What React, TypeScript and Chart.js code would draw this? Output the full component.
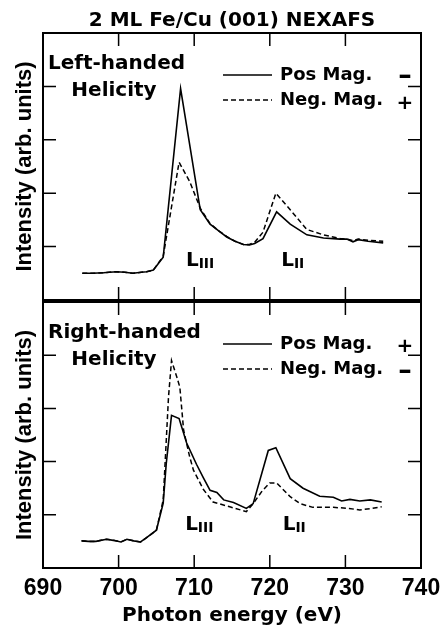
import { useEffect, useRef } from "react";
import { Chart, registerables } from "chart.js";

Chart.register(...registerables);

// ---------- data ----------
const titleText = "2 ML Fe/Cu (001) NEXAFS";
const yTitleText = "Intensity (arb. units)";
const xTitleText = "Photon energy (eV)";

const xMin = 690;
const xMax = 740;
const xTickStep = 10;
const innerXTicks = [700, 710, 720, 730];
const yMin = 0;
const yMax = 5;
const innerYTicks = [1, 2, 3, 4];

// Top panel: left-handed helicity
const leftPosE = [695.2, 696.5, 698.0, 699.7, 700.8, 701.9, 703.0, 703.7, 704.6, 705.9, 708.2, 710.8, 712.1, 713.2, 714.3, 715.4, 716.5, 717.3, 718.0, 719.1, 720.9, 722.7, 724.9, 727.1, 729.3, 730.2, 731.0, 731.7, 733.0, 735.0];
const leftPosI = [0.50, 0.50, 0.51, 0.53, 0.52, 0.50, 0.52, 0.53, 0.56, 0.80, 3.96, 1.69, 1.42, 1.30, 1.18, 1.10, 1.04, 1.03, 1.06, 1.15, 1.65, 1.42, 1.22, 1.16, 1.14, 1.14, 1.09, 1.13, 1.10, 1.07];
const leftNegE = [695.2, 696.5, 698.0, 699.7, 700.8, 701.9, 703.0, 703.7, 704.6, 705.9, 708.0, 709.4, 710.8, 712.1, 713.2, 714.3, 715.4, 716.5, 717.3, 718.0, 719.1, 720.8, 722.7, 724.9, 727.1, 729.3, 730.2, 731.0, 731.7, 733.0, 735.0];
const leftNegI = [0.50, 0.50, 0.51, 0.53, 0.52, 0.50, 0.52, 0.53, 0.56, 0.82, 2.58, 2.22, 1.72, 1.43, 1.30, 1.19, 1.10, 1.04, 1.04, 1.08, 1.27, 2.00, 1.69, 1.32, 1.22, 1.15, 1.14, 1.11, 1.14, 1.12, 1.10];

// Bottom panel: right-handed helicity
const rightPosE = [695.1, 696.0, 697.0, 698.4, 699.3, 700.3, 701.1, 702.0, 702.9, 703.7, 705.0, 705.9, 706.3, 707.0, 708.0, 709.0, 710.3, 711.2, 712.1, 713.0, 713.9, 715.2, 716.9, 717.8, 719.8, 720.8, 722.7, 724.4, 726.6, 728.4, 729.5, 730.6, 731.9, 733.3, 734.8];
const rightPosI = [0.51, 0.50, 0.50, 0.54, 0.52, 0.49, 0.54, 0.51, 0.49, 0.57, 0.71, 1.22, 1.96, 2.87, 2.81, 2.35, 1.95, 1.70, 1.46, 1.42, 1.28, 1.23, 1.12, 1.21, 2.21, 2.26, 1.68, 1.50, 1.35, 1.33, 1.26, 1.29, 1.26, 1.28, 1.24];
const rightNegE = [695.1, 696.0, 697.0, 698.4, 699.3, 700.3, 701.1, 702.0, 702.9, 703.7, 705.0, 705.9, 706.6, 707.0, 707.7, 708.1, 708.6, 709.4, 709.9, 711.2, 712.5, 714.7, 716.9, 717.8, 719.0, 720.0, 720.9, 722.7, 724.0, 725.7, 728.4, 730.5, 731.9, 733.5, 734.8];
const rightNegI = [0.51, 0.50, 0.50, 0.54, 0.52, 0.49, 0.54, 0.51, 0.49, 0.57, 0.71, 1.28, 3.21, 3.90, 3.59, 3.40, 2.59, 2.09, 1.84, 1.48, 1.24, 1.15, 1.06, 1.21, 1.45, 1.60, 1.60, 1.34, 1.21, 1.14, 1.14, 1.12, 1.09, 1.12, 1.15];

// labels
const topHand = ["Left-handed", "Helicity"];
const bottomHand = ["Right-handed", "Helicity"];
const posLabel = "Pos Mag.";
const negLabel = "Neg. Mag.";
const topSigns = ["–", "+"];
const bottomSigns = ["+", "–"];
// edge labels anchored in data coordinates [energy, intensity]
const topLIII = [708.9, 0.64];
const topLII = [721.5, 0.64];
const bottomLIII = [708.8, 0.71];
const bottomLII = [721.7, 0.71];

// ---------- styles ----------
const BIG = 'bold 20px "DejaVu Sans"';
const LEG = 'bold 18px "DejaVu Sans"';
const SUB = 'bold 14px "DejaVu Sans"';
const DASH_FONT = 'bold 27px "DejaVu Sans"';
const PLUS_FONT = 'bold 20px "DejaVu Sans"';
const DASH = [5, 3];

type PanelCfg = {
  hand: string[];
  signs: string[];
  lIII: number[];
  lII: number[];
  drawTitle: boolean;
};

function makeDecor(cfg: PanelCfg) {
  return {
    id: "decor",
    afterDatasetsDraw(chart: any) {
      const { ctx, chartArea: a, scales } = chart;
      const xs = scales.x;
      const ys = scales.y;
      ctx.save();
      ctx.strokeStyle = "#000";
      ctx.fillStyle = "#000";
      // frame
      ctx.lineWidth = 2;
      ctx.setLineDash([]);
      ctx.strokeRect(a.left, a.top, a.right - a.left, a.bottom - a.top);
      // inward ticks
      const TL = 13;
      ctx.lineWidth = 1.5;
      ctx.beginPath();
      innerXTicks.forEach((v) => {
        const px = xs.getPixelForValue(v);
        ctx.moveTo(px, a.top);
        ctx.lineTo(px, a.top + TL);
        ctx.moveTo(px, a.bottom);
        ctx.lineTo(px, a.bottom - TL);
      });
      innerYTicks.forEach((v) => {
        const py = ys.getPixelForValue(v);
        ctx.moveTo(a.left, py);
        ctx.lineTo(a.left + TL, py);
        ctx.moveTo(a.right, py);
        ctx.lineTo(a.right - TL, py);
      });
      ctx.stroke();

      ctx.textBaseline = "alphabetic";
      // title
      if (cfg.drawTitle) {
        ctx.font = BIG;
        ctx.textAlign = "center";
        ctx.fillText(titleText, (a.left + a.right) / 2, 26);
      }
      // helicity
      ctx.font = BIG;
      ctx.textAlign = "left";
      ctx.fillText(cfg.hand[0], a.left + 5, a.top + 36);
      ctx.textAlign = "center";
      ctx.fillText(cfg.hand[1], a.left + 71, a.top + 63);

      // legend
      const lx0 = a.left + 180;
      const lx1 = a.left + 229;
      ctx.lineWidth = 1.5;
      ctx.beginPath();
      ctx.moveTo(lx0, a.top + 42);
      ctx.lineTo(lx1, a.top + 42);
      ctx.stroke();
      ctx.setLineDash(DASH);
      ctx.beginPath();
      ctx.moveTo(lx0, a.top + 67);
      ctx.lineTo(lx1, a.top + 67);
      ctx.stroke();
      ctx.setLineDash([]);
      ctx.font = LEG;
      ctx.textAlign = "left";
      ctx.fillText(posLabel, a.left + 237, a.top + 47);
      ctx.fillText(negLabel, a.left + 237, a.top + 72);
      // signs, centred on their rows
      ctx.textAlign = "center";
      ctx.textBaseline = "middle";
      const rows = [a.top + 43.5, a.top + 69.5];
      cfg.signs.forEach((s, i) => {
        ctx.font = s === "+" ? PLUS_FONT : DASH_FONT;
        ctx.fillText(s, a.right - 16, rows[i] + (s === "+" ? 1 : 0));
      });
      ctx.textBaseline = "alphabetic";

      // edge labels
      const drawEdge = (pos: number[], sub: string) => {
        const px = xs.getPixelForValue(pos[0]);
        const py = ys.getPixelForValue(pos[1]);
        ctx.textAlign = "left";
        ctx.font = BIG;
        ctx.fillText("L", px, py);
        const w = ctx.measureText("L").width;
        ctx.font = SUB;
        ctx.fillText(sub, px + w, py + 2);
      };
      drawEdge(cfg.lIII, "III");
      drawEdge(cfg.lII, "II");
      ctx.restore();
    },
  };
}

function toPts(e: number[], v: number[]) {
  return e.map((x, i) => ({ x, y: v[i] }));
}

function makeConfig(
  pos: { x: number; y: number }[],
  neg: { x: number; y: number }[],
  cfg: PanelCfg,
  bottom: boolean
): any {
  const xScale: any = {
    type: "linear",
    min: xMin,
    max: xMax,
    display: bottom,
    grid: { display: false, drawTicks: false },
    border: { display: false },
    ticks: {
      stepSize: xTickStep,
      color: "#000",
      padding: 7,
      maxRotation: 0,
      font: { family: '"Liberation Sans"', size: 23, weight: "bold" },
    },
    title: {
      display: true,
      text: xTitleText,
      color: "#000",
      padding: { top: 0, bottom: 0 },
      font: { family: '"DejaVu Sans"', size: 20, weight: "bold" },
    },
  };
  if (bottom) {
    xScale.afterFit = (s: any) => {
      s.height = 60;
      s.paddingLeft = 0;
      s.paddingRight = 0;
    };
  }
  return {
    type: "line",
    data: {
      datasets: [
        {
          label: posLabel,
          data: pos,
          borderColor: "#000",
          borderWidth: 1.6,
          pointRadius: 0,
          tension: 0,
          fill: false,
        },
        {
          label: negLabel,
          data: neg,
          borderColor: "#000",
          borderWidth: 1.5,
          borderDash: DASH,
          pointRadius: 0,
          tension: 0,
          fill: false,
        },
      ],
    },
    options: {
      responsive: false,
      animation: false,
      events: [],
      layout: {
        padding: bottom
          ? { top: 2, right: 19, bottom: 0, left: 0 }
          : { top: 33, right: 19, bottom: 2, left: 0 },
      },
      plugins: {
        legend: { display: false },
        tooltip: { enabled: false },
        title: { display: false },
      },
      scales: {
        x: xScale,
        y: {
          type: "linear",
          min: yMin,
          max: yMax,
          grid: { display: false, drawTicks: false },
          border: { display: false },
          ticks: { display: false },
          title: {
            display: true,
            text: yTitleText,
            color: "#000",
            padding: { top: 12, bottom: 0 },
            font: { family: '"Liberation Sans"', size: 22, weight: "bold" },
          },
          afterFit: (s: any) => {
            s.width = 43;
          },
        },
      },
    },
    plugins: [makeDecor(cfg)],
  };
}

export default function App() {
  const topRef = useRef<HTMLCanvasElement>(null);
  const botRef = useRef<HTMLCanvasElement>(null);

  useEffect(() => {
    const top = new Chart(
      topRef.current as HTMLCanvasElement,
      makeConfig(
        toPts(leftPosE, leftPosI),
        toPts(leftNegE, leftNegI),
        { hand: topHand, signs: topSigns, lIII: topLIII, lII: topLII, drawTitle: true },
        false
      )
    );
    const bot = new Chart(
      botRef.current as HTMLCanvasElement,
      makeConfig(
        toPts(rightPosE, rightPosI),
        toPts(rightNegE, rightNegI),
        { hand: bottomHand, signs: bottomSigns, lIII: bottomLIII, lII: bottomLII, drawTitle: false },
        true
      )
    );
    return () => {
      top.destroy();
      bot.destroy();
    };
  }, []);

  return (
    <div
      style={{
        position: "fixed",
        left: 0,
        top: 0,
        width: 440,
        height: 628,
        background: "#fff",
        overflow: "hidden",
      }}
    >
      <canvas
        ref={topRef}
        width={440}
        height={302}
        style={{ position: "absolute", left: 0, top: 0, width: 440, height: 302 }}
      />
      <canvas
        ref={botRef}
        width={440}
        height={328}
        style={{ position: "absolute", left: 0, top: 300, width: 440, height: 328 }}
      />
    </div>
  );
}
